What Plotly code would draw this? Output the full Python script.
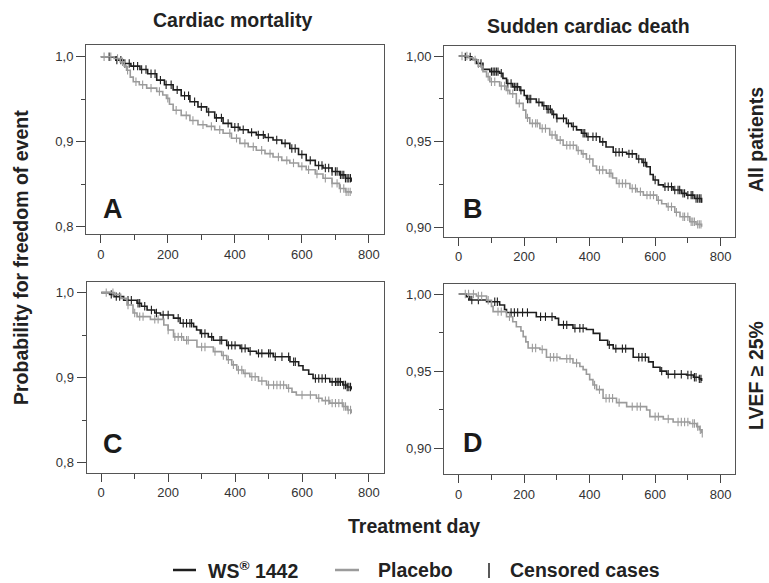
import numpy as np
import plotly.graph_objects as go

# ---------------- data ----------------
# Panel A: cardiac mortality, all patients
a_ws_days = [0, 28, 45, 67, 90, 117, 140, 167, 190, 216, 240, 266, 290, 316, 340, 365, 390, 415, 440, 464, 490, 514, 540, 564, 590, 613, 640, 663, 690, 712, 730, 747]
a_ws_surv = [1.0, 0.9995, 0.996, 0.992, 0.989, 0.985, 0.980, 0.9725, 0.967, 0.961, 0.954, 0.947, 0.941, 0.935, 0.928, 0.9216, 0.917, 0.914, 0.911, 0.908, 0.905, 0.902, 0.898, 0.892, 0.885, 0.878, 0.872, 0.869, 0.865, 0.861, 0.857, 0.853]
a_pl_days = [0, 40, 58, 70, 77, 88, 97, 115, 137, 167, 185, 196, 205, 216, 240, 266, 290, 316, 340, 365, 390, 415, 440, 464, 490, 514, 540, 564, 590, 613, 640, 663, 690, 712, 730, 747]
a_pl_surv = [1.0, 0.998, 0.994, 0.989, 0.984, 0.976, 0.9706, 0.967, 0.963, 0.959, 0.955, 0.951, 0.944, 0.937, 0.931, 0.925, 0.920, 0.918, 0.914, 0.910, 0.904, 0.898, 0.894, 0.890, 0.886, 0.882, 0.878, 0.875, 0.871, 0.867, 0.862, 0.857, 0.851, 0.845, 0.841, 0.839]

# Panel B: sudden cardiac death, all patients
b_ws_days = [0, 20, 40, 54, 74, 95, 125, 135, 146, 165, 187, 200, 207, 237, 255, 268, 285, 299, 329, 345, 360, 375, 390, 431, 450, 472, 513, 543, 560, 574, 585, 594, 610, 625, 655, 680, 696, 720, 742]
b_ws_surv = [1.0, 0.9995, 0.998, 0.9957, 0.9922, 0.9909, 0.990, 0.987, 0.984, 0.982, 0.980, 0.977, 0.975, 0.973, 0.971, 0.969, 0.966, 0.9637, 0.9608, 0.959, 0.957, 0.955, 0.953, 0.950, 0.947, 0.944, 0.943, 0.940, 0.938, 0.9355, 0.931, 0.9278, 0.925, 0.9239, 0.922, 0.920, 0.919, 0.917, 0.9146]
b_pl_days = [0, 30, 44, 60, 74, 85, 95, 125, 145, 156, 176, 197, 205, 217, 248, 278, 300, 319, 360, 375, 390, 410, 421, 451, 470, 482, 523, 545, 564, 605, 620, 635, 660, 676, 706, 725, 742]
b_pl_surv = [1.0, 0.999, 0.9977, 0.994, 0.9909, 0.988, 0.985, 0.9825, 0.980, 0.978, 0.9724, 0.9685, 0.964, 0.9608, 0.9578, 0.954, 0.951, 0.948, 0.945, 0.943, 0.940, 0.936, 0.9336, 0.9317, 0.929, 0.9258, 0.9229, 0.921, 0.919, 0.916, 0.914, 0.9122, 0.909, 0.9064, 0.9035, 0.902, 0.9006]

# Panel C: cardiac mortality, LVEF >= 25%
c_ws_days = [0, 25, 38, 67, 107, 120, 137, 160, 177, 216, 236, 276, 285, 296, 320, 335, 375, 415, 440, 464, 514, 564, 590, 603, 620, 633, 683, 722, 735, 747]
c_ws_surv = [1.0, 0.998, 0.9953, 0.991, 0.9875, 0.984, 0.9796, 0.976, 0.9737, 0.970, 0.964, 0.960, 0.956, 0.952, 0.948, 0.944, 0.938, 0.9345, 0.931, 0.9286, 0.9247, 0.9188, 0.914, 0.909, 0.904, 0.899, 0.895, 0.8914, 0.889, 0.886]
c_pl_days = [0, 40, 58, 77, 95, 107, 147, 187, 200, 216, 246, 286, 335, 360, 375, 390, 405, 425, 444, 470, 494, 554, 570, 583, 643, 660, 683, 722, 735, 747]
c_pl_surv = [1.0, 0.998, 0.9933, 0.9855, 0.976, 0.9718, 0.9686, 0.962, 0.956, 0.948, 0.944, 0.936, 0.9306, 0.926, 0.921, 0.915, 0.909, 0.905, 0.901, 0.896, 0.8914, 0.8875, 0.883, 0.8796, 0.8757, 0.873, 0.870, 0.866, 0.862, 0.858]

# Panel D: sudden cardiac death, LVEF >= 25%
d_ws_days = [0, 23, 34, 85, 125, 140, 146, 227, 237, 295, 305, 349, 390, 411, 431, 455, 472, 533, 580, 594, 615, 635, 696, 717, 735, 742]
d_ws_surv = [1.0, 0.9983, 0.9961, 0.995, 0.9929, 0.990, 0.988, 0.988, 0.9853, 0.9842, 0.980, 0.9778, 0.977, 0.9745, 0.970, 0.967, 0.9646, 0.959, 0.956, 0.9525, 0.950, 0.948, 0.9475, 0.946, 0.945, 0.9436]
d_pl_days = [0, 54, 85, 100, 105, 146, 165, 176, 190, 197, 205, 212, 248, 268, 309, 349, 370, 380, 390, 400, 410, 421, 441, 482, 513, 574, 584, 625, 655, 706, 727, 735, 742]
d_pl_surv = [1.0, 0.9987, 0.996, 0.992, 0.9886, 0.9853, 0.982, 0.9788, 0.976, 0.9724, 0.969, 0.965, 0.964, 0.959, 0.958, 0.9553, 0.953, 0.951, 0.948, 0.9445, 0.941, 0.938, 0.9324, 0.9296, 0.927, 0.9248, 0.9205, 0.919, 0.917, 0.916, 0.914, 0.912, 0.9097]

# censored observation days
a_ws_cens = [25, 48, 60, 72, 85, 98, 110, 122, 135, 150, 162, 178, 195, 210, 228, 250, 262, 280, 300, 322, 345, 360, 380, 400, 410, 425, 450, 470, 485, 500, 525, 550, 570, 580, 600, 625, 650, 660, 670, 680, 690, 700, 705, 715, 720, 725, 730, 735, 740, 745]
a_pl_cens = [10, 30, 50, 65, 80, 105, 125, 150, 175, 200, 225, 255, 275, 305, 330, 355, 385, 405, 430, 455, 480, 505, 530, 555, 575, 600, 620, 645, 670, 690, 705, 715, 725, 732, 738, 744]
b_ws_cens = [20, 35, 60, 68, 100, 105, 110, 115, 120, 130, 150, 160, 170, 175, 180, 190, 210, 215, 220, 245, 260, 270, 275, 280, 290, 300, 320, 335, 350, 380, 385, 395, 410, 420, 440, 480, 490, 500, 520, 530, 550, 565, 570, 600, 630, 640, 650, 660, 670, 675, 685, 690, 700, 710, 715, 725, 730, 735, 740]
b_pl_cens = [10, 25, 50, 70, 90, 100, 110, 130, 140, 150, 165, 185, 210, 225, 235, 240, 255, 265, 285, 295, 310, 330, 340, 350, 365, 380, 400, 430, 440, 460, 465, 490, 500, 510, 530, 540, 555, 575, 585, 595, 610, 640, 650, 665, 685, 690, 700, 710, 715, 720, 730, 735, 740]
c_ws_cens = [30, 45, 55, 80, 90, 110, 115, 130, 150, 165, 185, 200, 230, 245, 255, 265, 270, 300, 310, 330, 355, 360, 380, 390, 400, 420, 430, 445, 470, 480, 500, 505, 520, 540, 560, 575, 580, 640, 650, 660, 670, 690, 700, 705, 710, 715, 725, 730, 735, 740, 745]
c_pl_cens = [15, 35, 80, 100, 115, 125, 160, 170, 200, 220, 230, 240, 255, 260, 300, 310, 340, 365, 380, 395, 410, 420, 430, 450, 460, 480, 500, 515, 525, 535, 545, 560, 600, 625, 650, 670, 680, 690, 700, 710, 720, 725, 730, 738, 745]
d_ws_cens = [30, 40, 60, 110, 118, 160, 170, 180, 195, 210, 250, 265, 285, 320, 330, 355, 370, 380, 460, 480, 500, 510, 550, 560, 570, 620, 640, 660, 680, 700, 710, 720, 725, 735, 740]
d_pl_cens = [20, 30, 45, 60, 70, 90, 120, 130, 155, 225, 235, 255, 280, 290, 300, 330, 340, 360, 415, 430, 450, 460, 470, 490, 530, 545, 555, 600, 610, 640, 670, 680, 690, 700, 715, 720, 730, 738, 744]

panel_letters = ["A", "B", "C", "D"]
col_titles = ["Cardiac mortality", "Sudden cardiac death"]
row_titles = ["All patients", "LVEF \u2265 25%"]
x_title = "Treatment day"
y_title = "Probability for freedom of event"
legend_labels = ["WS<sup>\u00ae</sup> 1442", "Placebo", "Censored cases"]

x_tickvals = [0, 200, 400, 600, 800]
x_minor = [100, 300, 500, 700]
y_ticks_left = [0.8, 0.9, 1.0]
y_ticktext_left = ["0,8", "0,9", "1,0"]
y_minor_left = [0.85, 0.95]
y_ticks_right = [0.90, 0.95, 1.00]
y_ticktext_right = ["0,90", "0,95", "1,00"]
y_minor_right = [0.925, 0.975]

# ---------------- styling / layout ----------------
W, H = 769, 583
BLACK = "#1e1e1e"
GRAY = "#9b9b9b"
FONT = "Liberation Sans, Arial, sans-serif"
TXT = "#222222"
TSIZE = 19.5

panels = [
    dict(ws=(a_ws_days, a_ws_surv, a_ws_cens), pl=(a_pl_days, a_pl_surv, a_pl_cens),
         box=(86, 384, 45, 234), xr=[-44, 845], yr=[0.7914, 1.0138], left=True, letter_px=(113, 209)),
    dict(ws=(b_ws_days, b_ws_surv, b_ws_cens), pl=(b_pl_days, b_pl_surv, b_pl_cens),
         box=(444, 735, 45.7, 236.7), xr=[-45, 844], yr=[0.8948, 1.006], left=False, letter_px=(473, 209)),
    dict(ws=(c_ws_days, c_ws_surv, c_ws_cens), pl=(c_pl_days, c_pl_surv, c_pl_cens),
         box=(86.5, 384, 282.3, 472.7), xr=[-44, 845], yr=[0.7882, 1.0122], left=True, letter_px=(113, 444)),
    dict(ws=(d_ws_days, d_ws_surv, d_ws_cens), pl=(d_pl_days, d_pl_surv, d_pl_cens),
         box=(444, 735, 284, 474), xr=[-45, 844], yr=[0.8833, 1.0065], left=False, letter_px=(473, 443)),
]


def px_x(v):
    return v / W


def px_y(v):
    return 1 - v / H


def surv_at(days, surv, t):
    d = np.asarray(days)
    s = np.asarray(surv)
    idx = np.searchsorted(d, np.asarray(t), side="right") - 1
    return s[idx]


def label(text, xpx, ypx, size=TSIZE, angle=0, xanchor="center"):
    return dict(text=text, x=px_x(xpx), y=px_y(ypx), xref="paper", yref="paper", showarrow=False,
                xanchor=xanchor, yanchor="middle", textangle=angle,
                font=dict(family=FONT, size=size, color=TXT))


fig = go.Figure()
layout_axes = {}
annotations = []

for i, p in enumerate(panels):
    n = "" if i == 0 else str(i + 1)
    xa, ya = "x" + n, "y" + n
    for key, color in (("ws", BLACK), ("pl", GRAY)):
        days, surv, cens = p[key]
        fig.add_trace(go.Scatter(x=days, y=surv, mode="lines", line=dict(color=color, width=1.6, shape="hv"),
                                 xaxis=xa, yaxis=ya, showlegend=False, hoverinfo="skip"))
        fig.add_trace(go.Scatter(x=cens, y=surv_at(days, surv, cens), mode="markers",
                                 marker=dict(symbol="line-ns", size=6, line=dict(color=color, width=1.1)),
                                 xaxis=xa, yaxis=ya, showlegend=False, hoverinfo="skip"))
    l, r, t, b = p["box"]
    layout_axes["xaxis" + n] = dict(
        domain=[px_x(l), px_x(r)], range=p["xr"], anchor=ya,
        tickvals=x_tickvals, ticktext=[str(v) for v in x_tickvals], ticks="outside", ticklen=8,
        tickcolor="#444", tickwidth=1, showline=True, linecolor="#555", linewidth=1, mirror=True,
        showgrid=False, zeroline=False,
        tickfont=dict(family=FONT, size=13, color="#333"),
        minor=dict(tickvals=x_minor, ticks="outside", ticklen=5, tickcolor="#444"),
    )
    yt = y_ticks_left if p["left"] else y_ticks_right
    ytt = y_ticktext_left if p["left"] else y_ticktext_right
    ym = y_minor_left if p["left"] else y_minor_right
    layout_axes["yaxis" + n] = dict(
        domain=[px_y(b), px_y(t)], range=p["yr"], anchor=xa,
        tickvals=yt, ticktext=ytt, ticks="outside", ticklen=9, tickcolor="#444", tickwidth=1,
        showline=True, linecolor="#555", linewidth=1, mirror=True, showgrid=False, zeroline=False,
        tickfont=dict(family=FONT, size=13, color="#333"),
        minor=dict(tickvals=ym, ticks="outside", ticklen=4, tickcolor="#444"),
    )
    lx, ly = p["letter_px"]
    a = label("<b>%s</b>" % panel_letters[i], lx, ly, size=27)
    a["font"]["color"] = "#1a1a1a"
    annotations.append(a)

# column titles
annotations.append(label("<b>%s</b>" % col_titles[0], 232, 20))
annotations.append(label("<b>%s</b>" % col_titles[1], 588, 26))
# row titles
annotations.append(label("<b>%s</b>" % row_titles[0], 756, 140, angle=-90))
annotations.append(label("<b>%s</b>" % row_titles[1], 756, 376, angle=-90))
# axis titles
annotations.append(label("<b>%s</b>" % y_title, 21, 258, angle=-90))
annotations.append(label("<b>%s</b>" % x_title, 414, 526))

# legend (drawn with shapes + text)
LEG_Y = 570
shapes = [
    dict(type="line", xref="paper", yref="paper", x0=px_x(173), x1=px_x(196), y0=px_y(LEG_Y), y1=px_y(LEG_Y),
         line=dict(color=BLACK, width=2.5)),
    dict(type="line", xref="paper", yref="paper", x0=px_x(335), x1=px_x(359), y0=px_y(LEG_Y), y1=px_y(LEG_Y),
         line=dict(color=GRAY, width=2.5)),
    dict(type="line", xref="paper", yref="paper", x0=px_x(489), x1=px_x(489), y0=px_y(LEG_Y - 7), y1=px_y(LEG_Y + 8),
         line=dict(color=TXT, width=1.5)),
]
for txt, xpx in zip(legend_labels, [206, 376, 508]):
    annotations.append(label("<b>%s</b>" % txt, xpx, LEG_Y, xanchor="left"))

fig.update_layout(
    width=W, height=H, margin=dict(l=0, r=0, t=0, b=0),
    paper_bgcolor="white", plot_bgcolor="white",
    annotations=annotations, shapes=shapes, showlegend=False,
    **layout_axes,
)

fig.write_html("out.html")
